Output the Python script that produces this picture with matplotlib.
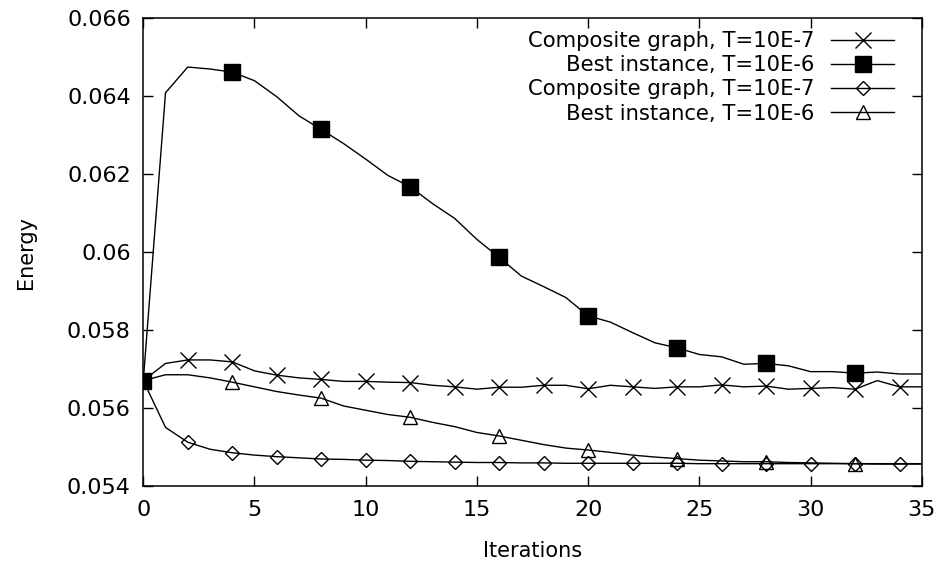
import matplotlib
matplotlib.use('Agg')
import matplotlib.pyplot as plt
from matplotlib.ticker import FuncFormatter, MultipleLocator

plt.rcParams.update({
    'font.family': 'DejaVu Sans',
    'font.size': 15,
    'axes.linewidth': 1.1,
})

# --- data ---
iterations = list(range(36))

composite_a = [0.05671, 0.05715, 0.05724, 0.05724, 0.05719, 0.05696, 0.05685, 0.05678,
               0.05674, 0.05669, 0.05669, 0.05667, 0.05666, 0.05659, 0.05655, 0.05649,
               0.05654, 0.05654, 0.05659, 0.05659, 0.05650, 0.05659, 0.05655, 0.05651,
               0.05655, 0.05655, 0.05660, 0.05655, 0.05657, 0.05649, 0.05651, 0.05653,
               0.05649, 0.05671, 0.05655, 0.05655]

best_a = [0.05671, 0.06409, 0.06475, 0.06470, 0.06462, 0.06440, 0.06399, 0.06350,
          0.06315, 0.06279, 0.06239, 0.06197, 0.06168, 0.06125, 0.06087, 0.06033,
          0.05987, 0.05939, 0.05912, 0.05884, 0.05837, 0.05821, 0.05794, 0.05768,
          0.05755, 0.05738, 0.05732, 0.05713, 0.05715, 0.05709, 0.05694, 0.05694,
          0.05690, 0.05693, 0.05688, 0.05688]

composite_b = [0.05671, 0.05551, 0.05513, 0.05495, 0.05486, 0.05480, 0.05476, 0.05473,
               0.05470, 0.05469, 0.05467, 0.05466, 0.05464, 0.05463, 0.05462, 0.05461,
               0.05461, 0.05460, 0.05460, 0.05459, 0.05459, 0.05459, 0.05459, 0.05459,
               0.05459, 0.05458, 0.05458, 0.05458, 0.05458, 0.05458, 0.05458, 0.05458,
               0.05458, 0.05458, 0.05458, 0.05458]

best_b = [0.05671, 0.05686, 0.05686, 0.05678, 0.05667, 0.05655, 0.05643, 0.05634,
          0.05626, 0.05606, 0.05595, 0.05584, 0.05577, 0.05564, 0.05553, 0.05538,
          0.05529, 0.05518, 0.05507, 0.05498, 0.05493, 0.05487, 0.05480, 0.05475,
          0.05471, 0.05467, 0.05465, 0.05463, 0.05463, 0.05461, 0.05460, 0.05459,
          0.05458, 0.05457, 0.05457, 0.05457]

labels = ['Composite graph, T=10E-7', 'Best instance, T=10E-6',
          'Composite graph, T=10E-7', 'Best instance, T=10E-6']

fig = plt.figure(figsize=(9.42, 5.65), dpi=100)
ax = fig.add_axes([0.1521, 0.1393, 0.8264, 0.8283])

ax.plot(iterations, composite_a, 'k-', lw=1.0, marker='x', ms=11, mew=1.0,
        markevery=2, label=labels[0])
ax.plot(iterations, best_a, 'k-', lw=1.0, marker='s', ms=11, mfc='k',
        markevery=4, label=labels[1])
ax.plot(iterations, composite_b, 'k-', lw=1.0, marker='D', ms=7.5, mfc='none', mew=1.0,
        markevery=2, label=labels[2])
ax.plot(iterations, best_b, 'k-', lw=1.0, marker='^', ms=10, mfc='none', mew=1.0,
        markevery=4, label=labels[3])

ax.set_xlim(0, 35)
ax.set_ylim(0.054, 0.066)
ax.xaxis.set_major_locator(MultipleLocator(5))
ax.yaxis.set_major_locator(MultipleLocator(0.002))
ax.yaxis.set_major_formatter(FuncFormatter(lambda v, p: '%g' % round(v, 4)))
ax.tick_params(direction='in', length=7, width=1.0, top=True, right=True, labelsize=16)
ax.tick_params(axis='x', pad=10)
ax.tick_params(axis='y', pad=9)

ax.set_xlabel('Iterations', labelpad=15)
ax.set_ylabel('Energy', labelpad=22)

ax.legend(loc='upper right', bbox_to_anchor=(0.9755, 0.991), frameon=False,
          markerfirst=False, handlelength=3.0, handletextpad=0.8,
          labelspacing=0.2, borderaxespad=0.0, fontsize=15.2)

plt.savefig('out.png', dpi=100)
